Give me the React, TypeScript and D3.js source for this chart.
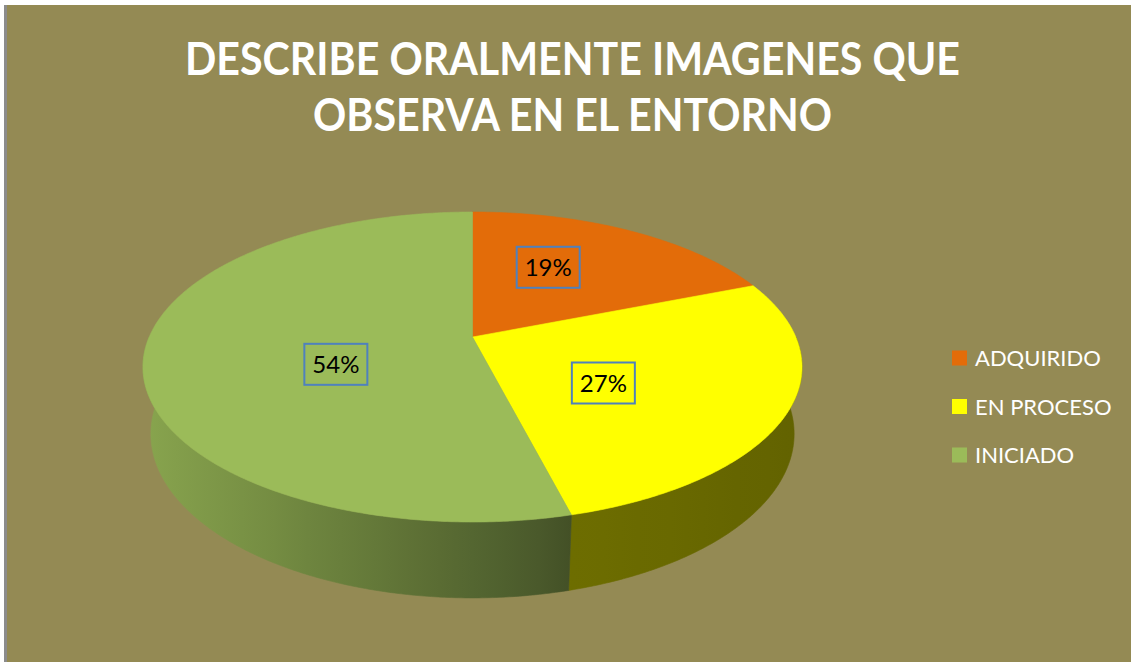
import React from "react";
import * as d3 from "d3";

// ---- data ----
const CATEGORIES = ["ADQUIRIDO", "EN PROCESO", "INICIADO"];
const VALUES = [19, 27, 54];
const LABELS = ["19%", "27%", "54%"];
const COLORS = ["#E36C09", "#FFFF00", "#9BBB59"];
const TITLE_LINES = ["DESCRIBE ORALMENTE IMAGENES QUE", "OBSERVA EN EL ENTORNO"];

// ---- layout ----
const W = 1131;
const H = 662;
const CX = 472.5;
const CY = 337;
const SIN_A = 0.4615;
const COS_A = Math.sqrt(1 - SIN_A * SIN_A);
const DIST = 4.584;
const FOCAL = 1482;
const DEPTH = 0.235;
const LABEL_R = 0.44;
const LABEL_NUDGE: [number, number][] = [[1, -19], [-1, 15], [6, 19]];
const TITLE_WIDTHS = [775, 519];

function project(theta: number, y3: number, r = 1): [number, number] {
  const X = r * Math.sin(theta);
  const Z = r * Math.cos(theta);
  const up = Z * SIN_A + y3 * COS_A;
  const depth = DIST + Z * COS_A - y3 * SIN_A;
  return [CX + (FOCAL * X) / depth, CY - (FOCAL * up) / depth];
}

function arcPoints(a0: number, a1: number, y3: number): [number, number][] {
  const n = Math.max(2, Math.ceil(((a1 - a0) * 180) / Math.PI * 2));
  const pts: [number, number][] = [];
  for (let i = 0; i <= n; i++) pts.push(project(a0 + ((a1 - a0) * i) / n, y3));
  return pts;
}

function shade(t: number) {
  return t < 0.645 ? 0.88 - 0.67 * t : 0.43 - 0.13 * (t - 0.645);
}

export default function App() {
  const pie = d3.pie<number>().sort(null).value((d) => d);
  const arcs = pie(VALUES);
  const line = d3.line();

  const allX = d3.range(0, 360, 1).map((d) => project((d * Math.PI) / 180, 0)[0]);
  const xMin = d3.min(allX)!;
  const xMax = d3.max(allX)!;

  const FRONT0 = Math.PI / 2;
  const FRONT1 = (3 * Math.PI) / 2;

  const sides = arcs.map((a, i) => {
    const s = Math.max(a.startAngle, FRONT0);
    const e = Math.min(a.endAngle, FRONT1);
    if (e <= s) return null;
    const top = arcPoints(s, e, 0);
    const bot = arcPoints(s, e, -DEPTH).reverse();
    return { i, d: line([...top, ...bot])! + "Z" };
  });

  const tops = arcs.map((a, i) => {
    const pts = [project(0, 0, 0), ...arcPoints(a.startAngle, a.endAngle, 0)];
    return { i, d: line(pts)! + "Z" };
  });

  const labels = arcs.map((a, i) => {
    const mid = (a.startAngle + a.endAngle) / 2;
    const [x, y] = project(mid, 0, LABEL_R);
    return { i, x: x + LABEL_NUDGE[i][0], y: y + LABEL_NUDGE[i][1] };
  });

  const stops = d3.range(0, 1.0001, 0.05);

  return (
    <svg
      width={W}
      height={H}
      style={{ position: "fixed", left: 0, top: 0 }}
      xmlns="http://www.w3.org/2000/svg"
    >
      <defs>
        {COLORS.map((c, i) => (
          <linearGradient
            key={i}
            id={`side${i}`}
            gradientUnits="userSpaceOnUse"
            x1={xMin}
            x2={xMax}
            y1={0}
            y2={0}
          >
            {stops.map((t, j) => {
              const base = d3.rgb(c);
              const k = shade(t);
              const col = d3.rgb(base.r * k, base.g * k, base.b * k);
              return <stop key={j} offset={t} stopColor={col.formatHex()} />;
            })}
          </linearGradient>
        ))}
      </defs>
      <rect x={0} y={0} width={W} height={H} fill="#ffffff" />
      <rect x={7} y={5} width={W - 7} height={H - 5} fill="#948A54" />
      <rect x={4} y={5} width={3} height={H - 5} fill="#8C8C8C" />

      {TITLE_LINES.map((t, i) => (
        <text
          key={i}
          x={572.5}
          y={75 + i * 56}
          textAnchor="middle"
          fill="#ffffff"
          fontFamily="Lato, 'Open Sans', sans-serif"
          fontWeight="bold"
          fontSize={45}
          textLength={TITLE_WIDTHS[i]}
          lengthAdjust="spacingAndGlyphs"
        >
          {t}
        </text>
      ))}

      {sides.map((s) =>
        s ? (
          <path
            key={s.i}
            d={s.d}
            fill={`url(#side${s.i})`}
            stroke={`url(#side${s.i})`}
            strokeWidth={0.6}
          />
        ) : null
      )}

      {tops.map((t) => (
        <path key={t.i} d={t.d} fill={COLORS[t.i]} stroke={COLORS[t.i]} strokeWidth={0.6} />
      ))}

      {labels.map((l) => (
        <g key={l.i}>
          <rect
            x={l.x - 31.5}
            y={l.y - 20.5}
            width={63}
            height={41}
            fill="none"
            stroke="#4F81BD"
            strokeWidth={2}
          />
          <text
            x={l.x}
            y={l.y + 8.5}
            textAnchor="middle"
            fill="#000000"
            fontFamily="Lato, 'Open Sans', sans-serif"
            fontSize={24}
          >
            {LABELS[l.i]}
          </text>
        </g>
      ))}

      {CATEGORIES.map((c, i) => (
        <g key={c} transform={`translate(952, ${358 + i * 48.5})`}>
          <rect x={0} y={-7.5} width={15} height={15} fill={COLORS[i]} />
          <text
            x={23}
            y={8}
            fill="#ffffff"
            fontFamily="Lato, 'Open Sans', sans-serif"
            fontSize={22}
          >
            {c}
          </text>
        </g>
      ))}
    </svg>
  );
}
